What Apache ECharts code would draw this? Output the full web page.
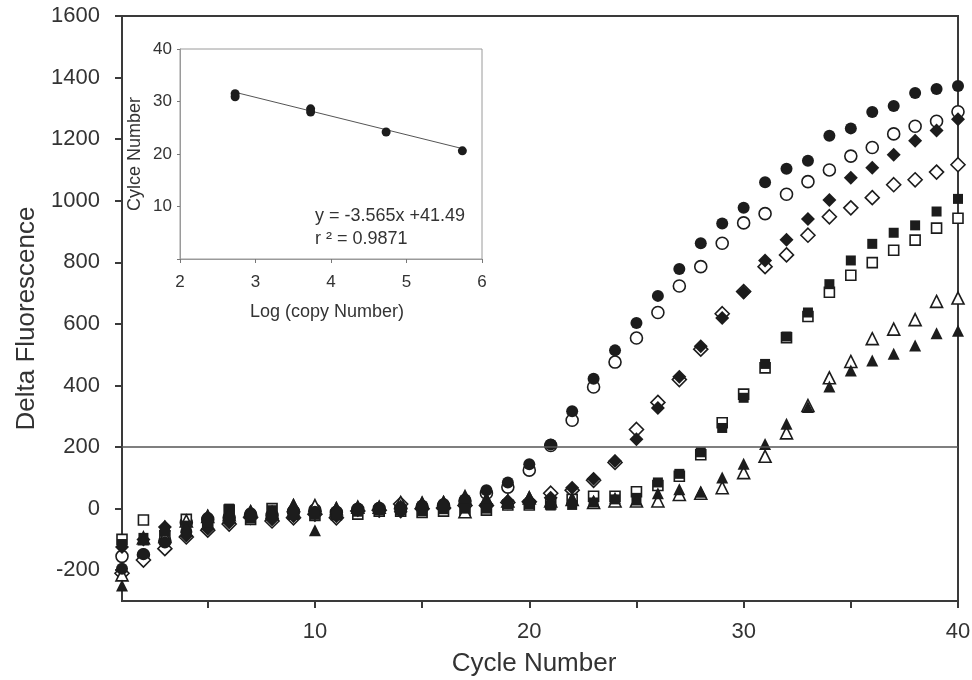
<!DOCTYPE html>
<html>
<head>
<meta charset="UTF-8">
<title>Delta Fluorescence</title>
<style>html,body{margin:0;padding:0;background:#fff;}</style>
</head>
<body>
<div id="main" style="width:972px;height:680px;"></div>
<script src="https://cdn.jsdelivr.net/npm/echarts@6/dist/echarts.min.js"></script>
<script>
// main plot: delta fluorescence per cycle, 8 dilutions
var cycles = [1,2,3,4,5,6,7,8,9,10,11,12,13,14,15,16,17,18,19,20,21,22,23,24,25,26,27,28,29,30,31,32,33,34,35,36,37,38,39,40];
var fillCircle = [-195,-148,-110,-75,-30,-25,-15,-18,-5,-10,-10,0,2,5,10,15,30,60,85,144,208,316,422,514,603,691,778,862,926,977,1060,1104,1130,1211,1235,1288,1308,1350,1363,1373];
var openCircle = [-155,-150,-105,-45,-35,-30,-20,-22,-10,-5,-12,-2,0,2,5,10,25,50,70,125,205,287,395,476,554,637,723,786,862,928,958,1021,1062,1100,1145,1173,1217,1242,1258,1289];
var fillDiamond = [-125,-100,-60,-88,-65,-45,-22,-35,-25,-15,-25,-5,-2,-10,2,5,15,15,25,25,35,68,97,155,225,327,428,527,619,703,806,873,941,1002,1075,1107,1149,1195,1228,1265];
var openDiamond = [-210,-167,-130,-92,-70,-50,-28,-40,-30,-18,-30,-8,-5,15,0,2,10,10,20,22,50,60,92,150,257,345,419,518,633,705,786,824,888,948,977,1010,1052,1068,1093,1117];
var fillSquare = [-115,-95,-75,-55,-45,0,-32,-5,-15,-20,-15,-10,-5,-5,-8,-2,0,0,15,15,10,12,20,30,35,85,113,183,262,360,470,559,637,729,806,860,896,920,965,1006];
var openSquare = [-100,-37,-88,-35,-50,-5,-35,0,-18,-22,-20,-18,-8,-8,-12,-8,-5,-5,12,12,15,30,40,40,55,75,105,175,279,372,457,555,624,703,758,799,839,872,911,943];
var fillTriangle = [-250,-100,-55,-60,-20,-15,-5,-10,15,-70,5,8,8,12,22,25,45,35,30,40,30,35,25,35,30,50,63,55,101,146,210,276,330,397,449,481,503,530,570,578];
var openTriangle = [-215,-95,-90,-40,-25,-20,-10,-12,10,10,0,5,5,20,18,20,-10,30,25,35,25,30,20,25,25,25,46,50,68,117,170,246,335,425,478,552,583,614,673,684];
var threshold = 200;
var yTicks = [-200,0,200,400,600,800,1000,1200,1400,1600];
var xTicks = [5,10,15,20,25,30,35,40];
var xLabels = [10,20,30,40];

// inset: standard curve
var logCopy = [2.73,2.73,3.73,3.73,4.73,5.74];
var ctCycle = [31.5,30.9,28.6,28.0,24.2,20.6];
var fitSlope = -3.565, fitIntercept = 41.49;
var fitRange = [2.73, 5.74];

var ink = '#1c1c1c';
var font = 'Liberation Sans, Arial, sans-serif';

function pairs(ys) {
    var res = [];
    for (var i = 0; i < cycles.length; i++) res.push([cycles[i], ys[i]]);
    return res;
}

function marks(name, ys, symbol, size, open) {
    return {
        name: name,
        type: 'scatter',
        xAxisIndex: 0,
        yAxisIndex: 0,
        symbol: symbol,
        symbolSize: size,
        data: pairs(ys),
        itemStyle: open
            ? { color: '#fff', borderColor: ink, borderWidth: 1.6, opacity: 1 }
            : { color: ink, opacity: 1 },
        z: open ? 2 : 3,
        silent: true
    };
}

var fitLine = [];
for (var k = 0; k < fitRange.length; k++) {
    fitLine.push([fitRange[k], fitSlope * fitRange[k] + fitIntercept]);
}
var stdPoints = [];
for (var j = 0; j < logCopy.length; j++) stdPoints.push([logCopy[j], ctCycle[j]]);

var myChart = echarts.init(document.getElementById('main'));

var plain = function (v) { return String(v); };

var option = {
    animation: false,
    backgroundColor: '#fff',
    textStyle: { fontFamily: font },
    grid: [
        { left: 122, right: 14, top: 16, bottom: 79, containLabel: false, outerBoundsMode: 'none',
          show: true, borderColor: '#3a3a3a', borderWidth: 2, backgroundColor: '#fff' },
        { left: 180, top: 49, width: 302, height: 210, containLabel: false, outerBoundsMode: 'none',
          show: true, borderColor: '#9a9a9a', borderWidth: 1, backgroundColor: '#fff', z: 5 }
    ],
    xAxis: [
        {
            gridIndex: 0, type: 'value', min: 1, max: 40,
            name: 'Cycle Number', nameLocation: 'middle', nameGap: 50,
            nameTextStyle: { fontSize: 26, color: '#333', fontFamily: font, padding: [0, 12, 0, 0] },
            axisLine: { onZero: false, lineStyle: { color: '#3a3a3a', width: 2 } },
            axisTick: { show: true, length: 7, customValues: xTicks, lineStyle: { color: '#3a3a3a', width: 2 } },
            axisLabel: { customValues: xLabels, fontSize: 22, color: '#333', margin: 20, fontFamily: font, formatter: plain },
            splitLine: { show: false }
        },
        {
            gridIndex: 1, type: 'value', min: 2, max: 6, interval: 1,
            name: 'Log (copy Number)', nameLocation: 'middle', nameGap: 44,
            nameTextStyle: { fontSize: 18, color: '#333', fontFamily: font, padding: [0, 8, 0, 0] },
            axisLine: { onZero: false, lineStyle: { color: '#9a9a9a', width: 1 } },
            axisTick: { show: true, length: 4, lineStyle: { color: '#777' } },
            axisLabel: { fontSize: 17, color: '#333', margin: 15, fontFamily: font },
            splitLine: { show: false },
            z: 6
        }
    ],
    yAxis: [
        {
            gridIndex: 0, type: 'value', min: -300, max: 1600,
            name: 'Delta Fluorescence', nameLocation: 'middle', nameGap: 81,
            nameTextStyle: { fontSize: 26, color: '#333', fontFamily: font, padding: [0, 20, 0, 0] },
            axisLine: { onZero: false, lineStyle: { color: '#3a3a3a', width: 2 } },
            axisTick: { show: true, length: 7, customValues: yTicks, lineStyle: { color: '#3a3a3a', width: 2 } },
            axisLabel: { customValues: yTicks, fontSize: 22, color: '#333', margin: 22, fontFamily: font, formatter: plain },
            splitLine: { show: false }
        },
        {
            gridIndex: 1, type: 'value', min: 0, max: 40, interval: 10,
            name: 'Cylce Number', nameLocation: 'middle', nameGap: 36,
            nameTextStyle: { fontSize: 18, color: '#333', fontFamily: font },
            axisLine: { onZero: false, lineStyle: { color: '#9a9a9a', width: 1 } },
            axisTick: { show: true, length: 3, lineStyle: { color: '#777' } },
            axisLabel: {
                fontSize: 17, color: '#333', margin: 8, fontFamily: font,
                formatter: function (v) { return v === 0 ? '' : String(v); }
            },
            splitLine: { show: false },
            z: 6
        }
    ],
    graphic: [
        { type: 'text', left: 315, top: 207, z: 100, style: { text: 'y = -3.565x +41.49', font: '18px ' + font, fill: '#333' } },
        { type: 'text', left: 315, top: 230, z: 100, style: { text: 'r ² = 0.9871', font: '18px ' + font, fill: '#333' } }
    ],
    series: [
        {
            name: 'threshold', type: 'line', xAxisIndex: 0, yAxisIndex: 0,
            data: [], silent: true,
            markLine: {
                silent: true, symbol: 'none', label: { show: false },
                lineStyle: { color: '#555', width: 1.5, type: 'solid' },
                data: [{ yAxis: threshold }]
            }
        },
        marks('fillCircle', fillCircle, 'circle', 12, false),
        marks('openCircle', openCircle, 'circle', 12, true),
        marks('fillDiamond', fillDiamond, 'diamond', 14, false),
        marks('openDiamond', openDiamond, 'diamond', 14, true),
        marks('fillSquare', fillSquare, 'rect', 10, false),
        marks('openSquare', openSquare, 'rect', 10, true),
        marks('fillTriangle', fillTriangle, 'triangle', 12, false),
        marks('openTriangle', openTriangle, 'triangle', 12, true),
        {
            name: 'fit', type: 'line', xAxisIndex: 1, yAxisIndex: 1,
            data: fitLine, symbol: 'none', silent: true,
            lineStyle: { color: '#555', width: 1 }, z: 10
        },
        {
            name: 'standard', type: 'scatter', xAxisIndex: 1, yAxisIndex: 1,
            data: stdPoints, symbol: 'circle', symbolSize: 9, silent: true,
            itemStyle: { color: ink, opacity: 1 }, z: 11
        }
    ]
};
myChart.setOption(option);
</script>
</body>
</html>
